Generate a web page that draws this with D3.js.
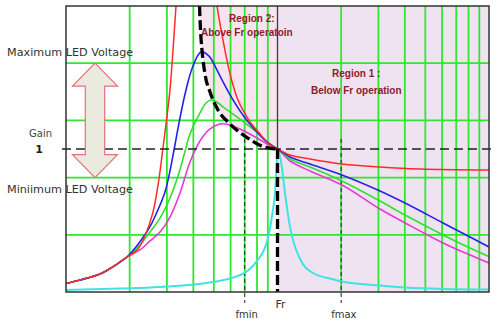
<!DOCTYPE html>
<html>
<head>
<meta charset="utf-8">
<script src="https://cdn.jsdelivr.net/npm/d3@7"></script>
<style>
  body { margin: 0; background: #fff; }
  svg { display: block; }
</style>
</head>
<body>
<svg id="chart" width="500" height="325"></svg>
<script>
// Frequency grid (log decades) and gain grid
const gainGrid = [0.4, 0.8, 1.2, 1.6];
const freqGrid = [2, 3, 4, 5, 6, 7, 8, 9, 20, 30, 40, 50, 60, 70, 80, 90];
const FR = 10, FMIN = 7, FMAX = 20;
const GAIN_UNITY = 1;
const MAX_LED = 1.6, MIN_LED = 0.8;

// Gain curves: [frequency, gain]
const redCurve = [
  [1.0, 0.059], [1.165, 0.084], [1.448, 0.126], [1.615, 0.164], [1.80, 0.210], [1.943, 0.245],
  [2.19, 0.301], [2.543, 0.527], [2.732, 0.762], [2.866, 0.993], [2.987, 1.203], [3.102, 1.413],
  [3.206, 1.692], [3.312, 2.0], [3.385, 2.18], [4.118, 3.09], [5.01, 2.18], [5.176, 2.0],
  [5.525, 1.762], [5.834, 1.587], [6.16, 1.448], [6.505, 1.343], [6.943, 1.259], [7.413, 1.189],
  [8.267, 1.105], [9.017, 1.042], [10, 1.0],
  [11.46, 0.958], [14.25, 0.930], [20.18, 0.895], [30.52, 0.874], [47.19, 0.860], [100, 0.853]
];
const blueCurve = [
  [1.0, 0.059], [1.165, 0.084], [1.448, 0.126], [1.615, 0.164], [1.80, 0.210], [1.943, 0.245],
  [2.238, 0.352], [2.496, 0.457], [2.783, 0.608], [2.938, 0.699], [3.102, 0.846], [3.241, 0.993],
  [3.459, 1.217], [3.693, 1.413], [3.985, 1.580], [4.348, 1.678], [4.744, 1.650], [5.119, 1.566],
  [5.465, 1.483], [6.16, 1.343], [7.021, 1.217], [8.0, 1.119], [8.92, 1.049], [10, 1.0],
  [11.46, 0.944], [14.25, 0.895], [20.18, 0.818], [30.52, 0.706], [40.08, 0.622], [60.6, 0.483],
  [81.3, 0.385], [100, 0.315]
];
const greenCurve = [
  [1.0, 0.059], [1.165, 0.084], [1.448, 0.126], [1.615, 0.164], [1.80, 0.210], [1.943, 0.245],
  [2.238, 0.329], [2.496, 0.420], [2.783, 0.517], [3.102, 0.657], [3.385, 0.811], [3.614, 0.958],
  [3.857, 1.105], [4.301, 1.252], [4.591, 1.322], [4.85, 1.343], [5.176, 1.329], [5.525, 1.294],
  [6.434, 1.224], [7.413, 1.154], [8.267, 1.098], [9.017, 1.042], [10, 1.0],
  [11.46, 0.930], [14.25, 0.874], [20.18, 0.776], [30.52, 0.636], [40.08, 0.538], [60.6, 0.399],
  [81.3, 0.308], [100, 0.248]
];
const magentaCurve = [
  [1.0, 0.059], [1.165, 0.084], [1.448, 0.126], [1.615, 0.164], [1.80, 0.210], [1.943, 0.245],
  [2.238, 0.294], [2.496, 0.357], [2.783, 0.420], [3.102, 0.524], [3.459, 0.692], [3.857, 0.909],
  [4.301, 1.056], [4.796, 1.140], [5.348, 1.175], [5.962, 1.168], [6.648, 1.140], [8.0, 1.077],
  [8.92, 1.035], [10, 1.0],
  [11.46, 0.916], [14.25, 0.846], [20.18, 0.748], [30.52, 0.580], [40.08, 0.483], [60.6, 0.343],
  [81.3, 0.259], [100, 0.203]
];
const cyanCurve = [
  [1.0, 0.014], [1.80, 0.024], [2.783, 0.035], [4.955, 0.070], [7.021, 0.136], [8.0, 0.217],
  [8.636, 0.294], [9.017, 0.378], [9.418, 0.531], [9.731, 0.692], [9.892, 0.867], [10, 1.0],
  [10.45, 0.888], [10.85, 0.692], [11.46, 0.455], [12.78, 0.231], [14.72, 0.133], [17.71, 0.094],
  [20.18, 0.073], [30.52, 0.045], [40.08, 0.031], [60.6, 0.021], [100, 0.017]
];
// Peak-gain locus separating the two operating regions
const peakLocus = [
  [4.278, 2.0], [4.325, 1.832], [4.395, 1.692], [4.541, 1.524], [4.796, 1.399], [5.233, 1.273],
  [5.962, 1.175], [7.176, 1.080], [8.542, 1.017], [10, 1.0]
];

const series = [
  { data: cyanCurve, color: "#3fe3e3", width: 2, curve: d3.curveMonotoneX },
  { data: magentaCurve, color: "#e63ad8", width: 1.6 },
  { data: greenCurve, color: "#2fe02f", width: 1.6 },
  { data: blueCurve, color: "#2424e6", width: 1.6 },
  { data: redCurve, color: "#ff2a2a", width: 1.5 }
];

const svg = d3.select("#chart");
const x = d3.scaleLog().domain([1, 100]).range([66, 489]);
const y = d3.scaleLinear().domain([0, 2]).range([292, 6]);
const [x0, x1] = x.range();
const [yB, yT] = y.range();

svg.append("defs").append("clipPath").attr("id", "plot")
  .append("rect").attr("x", x0).attr("y", yT).attr("width", x1 - x0).attr("height", yB - yT);

// Region shading
svg.append("rect")
  .attr("x", x(FR)).attr("y", yT).attr("width", x(100) - x(FR)).attr("height", yB - yT)
  .attr("fill", "#efe3f1");
svg.append("path")
  .datum(peakLocus)
  .attr("clip-path", "url(#plot)")
  .attr("fill", "#f8e4ef")
  .attr("d", d3.area().x(d => x(d[0])).y0(yT).y1(d => y(d[1])).curve(d3.curveMonotoneX));

// Grid
const grid = svg.append("g").attr("stroke", "#2ee82e").attr("stroke-width", 1.8);
grid.selectAll("line.v").data(freqGrid).join("line")
  .attr("x1", d => x(d)).attr("x2", d => x(d)).attr("y1", yT).attr("y2", yB);
grid.selectAll("line.h").data(gainGrid).join("line")
  .attr("x1", x0).attr("x2", x1).attr("y1", d => y(d)).attr("y2", d => y(d));

// Resonant frequency marker above unity gain
svg.append("line")
  .attr("x1", x(FR)).attr("x2", x(FR)).attr("y1", yT).attr("y2", y(GAIN_UNITY))
  .attr("stroke", "#3a3a3a").attr("stroke-width", 1.3);

// fmin / fmax markers
[FMIN, FMAX].forEach(f => {
  svg.append("line")
    .attr("x1", x(f)).attr("x2", x(f)).attr("y1", y(1.07)).attr("y2", yB + 11)
    .attr("stroke", "#222").attr("stroke-width", 1).attr("stroke-dasharray", "4,3");
});

// Gain curves
const lineWith = c => d3.line().x(d => x(d[0])).y(d => y(d[1])).curve(c);
const curves = svg.append("g").attr("clip-path", "url(#plot)").attr("fill", "none");
series.forEach(s => {
  curves.append("path").datum(s.data)
    .attr("stroke", s.color).attr("stroke-width", s.width)
    .attr("d", lineWith(s.curve || d3.curveCatmullRom.alpha(0.5)));
});

// Unity gain line
svg.append("line")
  .attr("x1", x0 - 4).attr("x2", x1 + 4).attr("y1", y(GAIN_UNITY)).attr("y2", y(GAIN_UNITY))
  .attr("stroke", "#222").attr("stroke-width", 1.5).attr("stroke-dasharray", "9,5");

// Peak locus and Fr boundary (thick dashes)
svg.append("path").datum(peakLocus)
  .attr("clip-path", "url(#plot)")
  .attr("fill", "none").attr("stroke", "#000").attr("stroke-width", 3.3)
  .attr("stroke-dasharray", "10,4").attr("d", lineWith(d3.curveMonotoneX));
svg.append("line")
  .attr("x1", x(FR)).attr("x2", x(FR)).attr("y1", y(GAIN_UNITY)).attr("y2", yB)
  .attr("stroke", "#000").attr("stroke-width", 3.3).attr("stroke-dasharray", "10,4");

// Frame
svg.append("rect")
  .attr("x", x0).attr("y", yT).attr("width", x1 - x0).attr("height", yB - yT)
  .attr("fill", "none").attr("stroke", "#333").attr("stroke-width", 1.5);

// LED voltage range arrow
const ax = 95, headW = 22.5, shaftW = 9.7, headH = 23;
const yTop = y(MAX_LED), yBot = y(MIN_LED);
const arrowPts = [
  [ax, yTop], [ax + headW, yTop + headH], [ax + shaftW, yTop + headH],
  [ax + shaftW, yBot - headH], [ax + headW, yBot - headH], [ax, yBot],
  [ax - headW, yBot - headH], [ax - shaftW, yBot - headH], [ax - shaftW, yTop + headH],
  [ax - headW, yTop + headH]
];
svg.append("polygon")
  .attr("points", arrowPts.map(p => p.join(",")).join(" "))
  .attr("fill", "#ebeadf").attr("stroke", "#e2707f").attr("stroke-width", 1.2);

// Labels
const sans = "'DejaVu Sans', Verdana, sans-serif";
const txt = (t, px, py, opts = {}) => svg.append("text")
  .attr("x", px).attr("y", py).text(t)
  .attr("font-family", opts.family || sans)
  .attr("font-size", opts.size || 11)
  .attr("font-weight", opts.weight || "normal")
  .attr("fill", opts.fill || "#333")
  .attr("text-anchor", opts.anchor || "start");

txt("Maximum LED Voltage", 7, y(MAX_LED) - 7, { size: 11.2 });
txt("Miniimum LED Voltage", 7, y(MIN_LED) + 15, { size: 11.2 });
txt("Gain", 40.5, y(GAIN_UNITY) - 12, { size: 10, anchor: "middle", fill: "#444" });
txt("1", 39, y(GAIN_UNITY) + 4, { size: 11, weight: "bold", anchor: "middle", fill: "#222" });

txt("fmin", x(FMIN) + 2, yB + 26, { size: 10, anchor: "middle" });
txt("Fr", x(FR) + 3, yB + 16, { size: 11, anchor: "middle" });
txt("fmax", x(FMAX) - 10, yB + 26, { size: 10 });

const boldRed = { family: "'Liberation Sans', Arial, sans-serif", size: 10, weight: "bold", fill: "#8c1a2a" };
txt("Region 2:", 229, 22, boldRed);
txt("Above Fr operatoin", 201, 36, boldRed);
txt("Region 1 :", 332, 77, boldRed);
txt("Below Fr operation", 311, 94, boldRed);
</script>
</body>
</html>
